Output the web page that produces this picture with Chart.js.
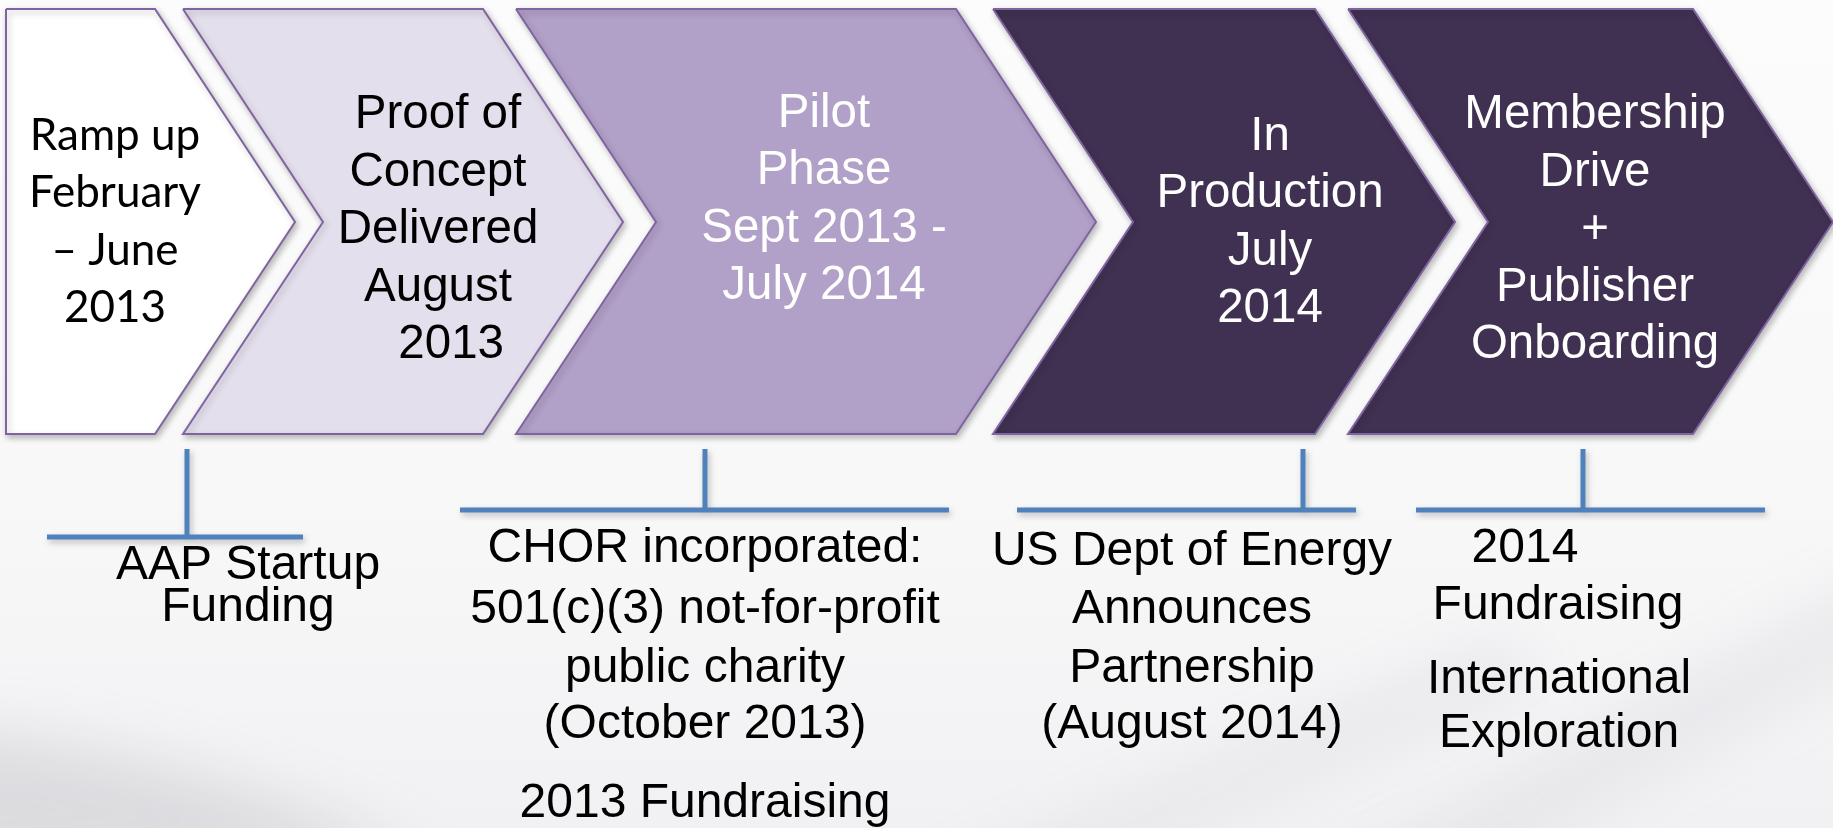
<!DOCTYPE html>
<html>
<head>
<meta charset="utf-8">
<script src="https://cdn.jsdelivr.net/npm/chart.js@4.4.1/dist/chart.umd.min.js"></script>
<style>
html, body { margin: 0; padding: 0; background: #f8f8f9; overflow: hidden; }
</style>
</head>
<body>
<canvas id="myChart" width="1833" height="828"></canvas>
<script>
// phases (chevrons), left to right
const phaseLabels = [
    ["Ramp up", "February", "\u2013 June", "2013"],
    ["Proof of", "Concept", "Delivered", "August", "  2013"],
    ["Pilot", "Phase", "Sept 2013 -", "July 2014"],
    ["In", "Production", "July", "2014"],
    ["Membership", "Drive", "+", "Publisher", "Onboarding"]
]
const phaseStart = [6, 183, 516, 993, 1348]
const phaseEnd = [295, 623, 1096, 1455, 1833]

// milestones hanging under the phases
const milestoneAt = [187, 705, 1303, 1583]
const milestoneFrom = [47, 460, 1017, 1416]
const milestoneTo = [303, 949, 1356, 1765]
const milestoneNotes = [
    ["AAP Startup", "Funding"],
    ["CHOR incorporated:", "501(c)(3) not-for-profit", "public charity", "(October 2013)", "2013 Fundraising"],
    ["US Dept of Energy", "Announces", "Partnership", "(August 2014)"],
    ["2014", "Fundraising", "International", "Exploration"]
]

// styling / layout
const phaseFill = ["#ffffff", "#e4dfec", "#b1a0c7", "#403152", "#403152"]
const phaseText = ["#000000", "#000000", "#ffffff", "#ffffff", "#ffffff"]
const phaseFont = ['44px Lato, "Open Sans", sans-serif', '47.5px "Liberation Sans", Arial, sans-serif']
const phaseTextY = [222, 230, 200, 223, 230]
const phaseTextX = [115, 438, 824, 1270, 1595]
const top_y = 9, bottom_y = 434, mid_y = 222, depth = 140
const stemTop = 449
const barY = [537, 510, 510, 510]
const noteX = [[248, 248], [705, 705, 705, 705, 705], [1192, 1192, 1192, 1192], [1525, 1558, 1559, 1559]]
const noteY = [[566, 608], [549, 610, 669, 725, 804], [552, 610, 669, 725], [549, 606, 680, 734]]

let datasets = []
for (let i = 0; i < phaseStart.length; i++) {
    let s = phaseStart[i], e = phaseEnd[i]
    let pts = [
        {x: s, y: top_y},
        {x: e - depth, y: top_y},
        {x: e, y: mid_y},
        {x: e - depth, y: bottom_y},
        {x: s, y: bottom_y}
    ]
    if (i > 0) pts.push({x: s + depth, y: mid_y})
    pts.push({x: s, y: top_y})
    datasets.push({
        data: pts,
        fill: 'shape',
        backgroundColor: phaseFill[i],
        borderColor: "#8064a2",
        borderWidth: 2,
        pointRadius: 0,
        tension: 0
    })
}
for (let i = 0; i < milestoneAt.length; i++) {
    datasets.push({
        data: [
            {x: milestoneAt[i], y: stemTop},
            {x: milestoneAt[i], y: barY[i]},
            {x: milestoneAt[i], y: null},
            {x: milestoneFrom[i], y: barY[i]},
            {x: milestoneTo[i], y: barY[i]}
        ],
        fill: false,
        borderColor: "#4f81bd",
        borderWidth: 5,
        borderCapStyle: 'butt',
        pointRadius: 0,
        spanGaps: false
    })
}

const decor = {
    id: 'decor',
    beforeDraw(chart) {
        const ctx = chart.ctx
        const w = chart.width, h = chart.height
        ctx.save()
        let g = ctx.createLinearGradient(0, 0, 0, h)
        g.addColorStop(0, "#fcfcfd")
        g.addColorStop(0.6, "#f8f8f9")
        g.addColorStop(1, "#f1f1f3")
        ctx.fillStyle = g
        ctx.fillRect(0, 0, w, h)
        // soft grey swooshes
        ctx.filter = "blur(28px)"
        ctx.fillStyle = "rgba(165,165,172,0.28)"
        ctx.beginPath()
        ctx.moveTo(-60, 730); ctx.quadraticCurveTo(200, 750, 420, 860); ctx.lineTo(-60, 880); ctx.closePath()
        ctx.fill()
        ctx.fillStyle = "rgba(170,170,178,0.15)"
        ctx.beginPath()
        ctx.moveTo(1300, 900); ctx.lineTo(1900, 560); ctx.lineTo(1900, 640); ctx.lineTo(1420, 900); ctx.closePath()
        ctx.fill()
        ctx.beginPath()
        ctx.moveTo(900, 900); ctx.lineTo(1500, 640); ctx.lineTo(1540, 680); ctx.lineTo(1000, 900); ctx.closePath()
        ctx.fill()
        ctx.restore()
    },
    beforeDatasetsDraw(chart) {
        const ctx = chart.ctx
        ctx.save()
        ctx.shadowColor = "rgba(0,0,0,0.25)"
        ctx.shadowBlur = 6
        ctx.shadowOffsetX = 2
        ctx.shadowOffsetY = 3
    },
    afterDatasetsDraw(chart) {
        const ctx = chart.ctx
        ctx.restore()
        const xs = chart.scales.x, ys = chart.scales.y
        ctx.save()
        ctx.textAlign = "center"
        ctx.textBaseline = "middle"
        for (let i = 0; i < phaseLabels.length; i++) {
            const lines = phaseLabels[i]
            ctx.font = i == 0 ? phaseFont[0] : phaseFont[1]
            ctx.fillStyle = phaseText[i]
            const step = 57.5
            const y0 = phaseTextY[i] - step * (lines.length - 1) / 2
            lines.forEach((t, k) => {
                ctx.fillText(t, xs.getPixelForValue(phaseTextX[i]), ys.getPixelForValue(y0 + k * step))
            })
        }
        ctx.font = '48px "Liberation Sans", Arial, sans-serif'
        ctx.fillStyle = "#000000"
        for (let i = 0; i < milestoneNotes.length; i++) {
            milestoneNotes[i].forEach((t, k) => {
                ctx.fillText(t, xs.getPixelForValue(noteX[i][k]), ys.getPixelForValue(noteY[i][k]))
            })
        }
        ctx.restore()
    }
}

const ctx = document.getElementById('myChart').getContext('2d')
new Chart(ctx, {
    type: 'line',
    data: { datasets: datasets },
    options: {
        responsive: false,
        animation: false,
        layout: { padding: 0 },
        plugins: {
            legend: { display: false },
            tooltip: { enabled: false }
        },
        scales: {
            x: { type: 'linear', min: 0, max: 1833, display: false },
            y: { type: 'linear', min: 0, max: 828, reverse: true, display: false }
        }
    },
    plugins: [decor]
})
</script>
</body>
</html>
